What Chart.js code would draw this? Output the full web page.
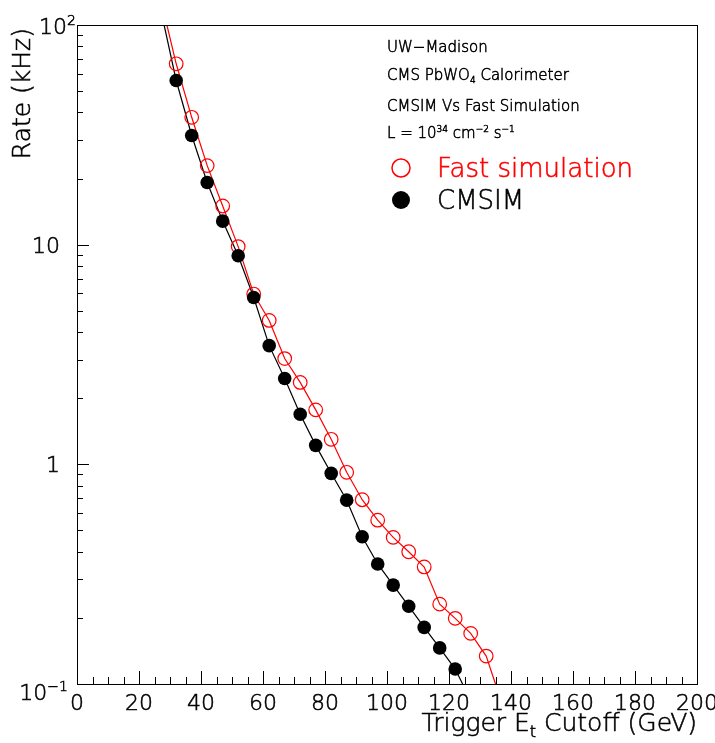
<!DOCTYPE html>
<html><head><meta charset="utf-8">
<script src="https://cdn.jsdelivr.net/npm/chart.js@4/dist/chart.umd.min.js"></script>
<style>html,body{margin:0;padding:0;background:#fff}canvas{display:block}</style>
</head><body>
<canvas id="c" width="715" height="743" style="width:715px;height:743px"></canvas>
<script>
// ---- data ----
const xFast = [32,37,42,47,52,57,62,67,72,77,82,87,92,97,102,107,112,117,122,127,132];
const rateFast = [66.6,38.0,22.9,15.0,9.8,5.96,4.52,3.03,2.36,1.77,1.30,0.92,0.69,0.557,0.465,0.40,0.341,0.231,0.199,0.170,0.134];
const xCmsim = [32,37,42,47,52,57,62,67,72,77,82,87,92,97,102,107,112,117,122];
const rateCmsim = [55.9,31.4,19.2,12.8,8.9,5.75,3.47,2.46,1.69,1.22,0.91,0.687,0.468,0.352,0.282,0.226,0.181,0.146,0.117];
// fitted curve ends (where the curves leave the frame)
const fastFitEnds = [[29.0,100],[135.0,0.1]];
const cmsimFitEnds = [[28.1,100],[124.4,0.1]];

const xMin = 0, xMax = 200, xMajorStep = 20, xMinorStep = 5;
const yMin = 0.1, yMax = 100;
const yTickValues = [0.1, 1, 10, 100];
const yTickBase = ['10','1','10','10'];
const yTickExp  = ['\u22121','','','2'];
const yTitle = 'Rate (kHz)';
const seriesNames = ['Fast simulation','CMSIM'];
const seriesColors = ['#ff0000','#000000'];

const FONT = '"DejaVu Sans", "Liberation Sans", sans-serif';
const WEIGHT = '200';
const STROKE = 0.55;

function pts(xs, ys){ return xs.map((v,i)=>({x:v, y:ys[i]})); }
function fitLine(xs, ys, ends){
  return [{x:ends[0][0],y:ends[0][1]}].concat(pts(xs,ys)).concat([{x:ends[1][0],y:ends[1][1]}]);
}

function drawRich(ctx, parts, x, y, baseSize, align){
  const sizes = parts.map(p => p[1]===0 ? baseSize : Math.round(baseSize*0.62));
  const f = s => WEIGHT+' '+s+'px '+FONT;
  let widths = parts.map((p,i)=>{ ctx.font = f(sizes[i]); return ctx.measureText(p[0]).width; });
  let total = widths.reduce((a,b)=>a+b,0);
  let cx = align==='right' ? x-total : x;
  ctx.textAlign = 'left'; ctx.textBaseline = 'alphabetic';
  ctx.strokeStyle = ctx.fillStyle; ctx.lineWidth = STROKE;
  parts.forEach((p,i)=>{
    ctx.font = f(sizes[i]);
    const dy = p[1]===1 ? -baseSize*0.42 : (p[1]===-1 ? baseSize*0.22 : 0);
    ctx.fillText(p[0], cx, y+dy);
    ctx.strokeText(p[0], cx, y+dy);
    cx += widths[i];
  });
}

const decor = {
  id:'decor',
  afterDraw(chart){
    const {ctx, chartArea:a, scales:{x, y}} = chart;
    ctx.save();
    ctx.strokeStyle = '#000'; ctx.lineWidth = 1;
    ctx.strokeRect(a.left+0.5, a.top+0.5, a.right-a.left, a.bottom-a.top);
    ctx.beginPath();
    for(let v=xMin; v<=xMax; v+=xMinorStep){
      const px = Math.round(x.getPixelForValue(v))+0.5;
      const len = (v % xMajorStep === 0) ? 13 : 7;
      ctx.moveTo(px, a.bottom); ctx.lineTo(px, a.bottom-len);
    }
    for(let e=-1; e<=2; e++){
      for(let m=1; m<=9; m++){
        const v = m*Math.pow(10,e);
        if(v > yMax*1.0001) break;
        const py = Math.round(y.getPixelForValue(v))+0.5;
        const len = m===1 ? 12 : 6;
        ctx.moveTo(a.left, py); ctx.lineTo(a.left+len, py);
      }
    }
    ctx.stroke();

    ctx.fillStyle = '#000';
    yTickValues.forEach((v,i)=>{
      const py = y.getPixelForValue(v);
      if(yTickExp[i]===''){
        drawRich(ctx, [[yTickBase[i],0]], a.left-17, py+8, 22, 'right');
      } else if(i===0){
        drawRich(ctx, [[yTickBase[i],0],[yTickExp[i],1]], a.left-9, py+16, 22, 'right');
      } else {
        drawRich(ctx, [[yTickBase[i],0],[yTickExp[i],1]], a.left-1, py+9, 22, 'right');
      }
    });

    ctx.save();
    ctx.translate(30, a.top+3);
    ctx.rotate(-Math.PI/2);
    ctx.font = WEIGHT+' 25px '+FONT; ctx.textAlign='right'; ctx.textBaseline='alphabetic';
    ctx.strokeStyle = '#000'; ctx.lineWidth = STROKE;
    ctx.fillText(yTitle, 0, 0);
    ctx.strokeText(yTitle, 0, 0);
    ctx.restore();
    drawRich(ctx, [['Trigger E',0],['t',-1],[' Cutoff (GeV)',0]], a.right, 731, 25, 'right');

    const tx = 387;
    drawRich(ctx, [['UW\u2212Madison',0]], tx, 52, 15, 'left');
    drawRich(ctx, [['CMS PbWO',0],['4',-1],[' Calorimeter',0]], tx, 80, 15, 'left');
    drawRich(ctx, [['CMSIM Vs Fast Simulation',0]], tx, 111, 15, 'left');
    drawRich(ctx, [['L = 10',0],['34',1],[' cm',0],['\u22122',1],[' s',0],['\u22121',1]], tx, 138, 15, 'left');

    ctx.lineWidth = 1.5;
    ctx.strokeStyle = seriesColors[0];
    ctx.beginPath(); ctx.arc(401, 168, 9, 0, Math.PI*2); ctx.stroke();
    ctx.fillStyle = seriesColors[1];
    ctx.beginPath(); ctx.arc(401, 200, 9, 0, Math.PI*2); ctx.fill();
    ctx.fillStyle = seriesColors[0];
    drawRich(ctx, [[seriesNames[0],0]], 437, 177, 26, 'left');
    ctx.fillStyle = seriesColors[1];
    drawRich(ctx, [[seriesNames[1],0]], 437, 209, 26, 'left');
    ctx.restore();
  }
};

new Chart(document.getElementById('c'), {
  type:'scatter',
  data:{ datasets:[
    { label:seriesNames[1], data:pts(xCmsim, rateCmsim), showLine:false,
      pointRadius:6.8, pointBackgroundColor:'#000', pointBorderColor:'#000', pointBorderWidth:0 },
    { label:seriesNames[0], data:pts(xFast, rateFast), showLine:false,
      pointRadius:6.8, pointBackgroundColor:'rgba(0,0,0,0)', pointBorderColor:'#ff0000', pointBorderWidth:1.2 },
    { label:'cmsim fit', data:fitLine(xCmsim, rateCmsim, cmsimFitEnds), showLine:true,
      borderColor:'#000', borderWidth:1.2, pointRadius:0, tension:0 },
    { label:'fast fit', data:fitLine(xFast, rateFast, fastFitEnds), showLine:true,
      borderColor:'#ff0000', borderWidth:1.2, pointRadius:0, tension:0 }
  ]},
  options:{
    responsive:false, animation:false, devicePixelRatio:1,
    layout:{ padding:{ top:25, right:18, left:0, bottom:0 } },
    plugins:{ legend:{display:false}, tooltip:{enabled:false} },
    scales:{
      x:{ type:'linear', min:xMin, max:xMax,
          grid:{display:false, drawTicks:false}, border:{display:false},
          ticks:{ stepSize:xMajorStep, maxRotation:0, autoSkip:false, padding:7, color:'#000',
                  textStrokeColor:'#000', textStrokeWidth:STROKE,
                  font:{family:FONT, size:22, weight:WEIGHT} },
          afterFit(s){ s.height = 59; s.paddingLeft = 0; s.paddingRight = 0; } },
      y:{ type:'logarithmic', min:yMin, max:yMax,
          grid:{display:false, drawTicks:false}, border:{display:false},
          ticks:{ display:false },
          afterFit(s){ s.width = 77; s.paddingTop = 0; s.paddingBottom = 0; } }
    }
  },
  plugins:[decor]
});
</script>
</body></html>
